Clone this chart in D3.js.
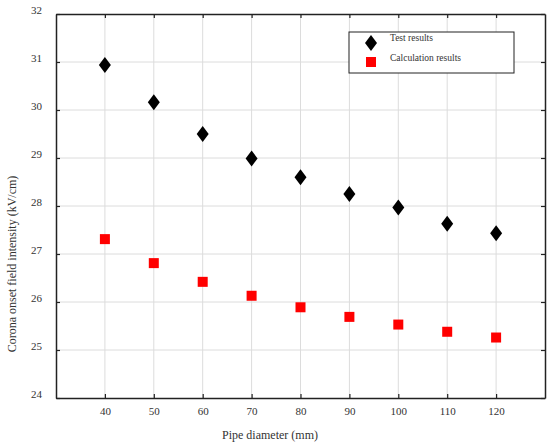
<!DOCTYPE html>
<html>
<head>
<meta charset="utf-8">
<script src="https://cdn.jsdelivr.net/npm/d3@7"></script>
<style>
  body { margin: 0; background: #fff; }
  svg text { font-family: 'Liberation Serif', 'DejaVu Serif', serif; fill: #333; }
</style>
</head>
<body>
<div id="chart"></div>
<script>
// data
const diameters = [40, 50, 60, 70, 80, 90, 100, 110, 120];
const testResults = [30.94, 30.16, 29.5, 28.99, 28.6, 28.25, 27.97, 27.63, 27.43];
const calcResults = [27.31, 26.81, 26.42, 26.13, 25.89, 25.69, 25.53, 25.38, 25.26];
const xTicks = [40, 50, 60, 70, 80, 90, 100, 110, 120];
const yTicks = [24, 25, 26, 27, 28, 29, 30, 31, 32];

const svgWidth = 550,
    svgHeight = 446,
    margin = { top: 14, right: 5, bottom: 48, left: 56 },
    width = svgWidth - margin.left - margin.right,
    height = svgHeight - margin.top - margin.bottom;

let svg = d3.select("#chart").append("svg")
    .attr("width", svgWidth)
    .attr("height", svgHeight);
let plot = svg.append("g")
    .attr("transform", `translate(${margin.left},${margin.top})`);

let xScale = d3.scaleLinear().domain([30, 130]).range([0, width]);
let yScale = d3.scaleLinear().domain([24, 32]).range([height, 0]);

// grid
plot.selectAll(".vgrid")
    .data(xTicks)
    .join("line")
    .attr("x1", d => xScale(d)).attr("x2", d => xScale(d))
    .attr("y1", 0).attr("y2", height)
    .attr("stroke", "#dcdcdc").attr("stroke-width", 1);
plot.selectAll(".hgrid")
    .data(yTicks.slice(1, -1))
    .join("line")
    .attr("x1", 0).attr("x2", width)
    .attr("y1", d => yScale(d)).attr("y2", d => yScale(d))
    .attr("stroke", "#dcdcdc").attr("stroke-width", 1);

// axes (inward ticks on all sides)
let xAxis = plot.append("g")
    .attr("transform", `translate(0,${height})`)
    .call(d3.axisBottom(xScale).tickValues(xTicks).tickSizeInner(-4).tickSizeOuter(0).tickPadding(9));
let xAxisTop = plot.append("g")
    .call(d3.axisTop(xScale).tickValues(xTicks).tickSizeInner(-4).tickSizeOuter(0).tickFormat(""));
let yAxis = plot.append("g")
    .call(d3.axisLeft(yScale).tickValues(yTicks).tickSizeInner(-4).tickSizeOuter(0).tickPadding(14));
let yAxisRight = plot.append("g")
    .attr("transform", `translate(${width},0)`)
    .call(d3.axisRight(yScale).tickValues(yTicks).tickSizeInner(-4).tickSizeOuter(0).tickFormat(""));

[xAxis, xAxisTop, yAxis, yAxisRight].forEach(a => {
    a.attr("font-family", null).attr("font-size", null);
    a.select(".domain").attr("stroke", "#222").attr("stroke-width", 1.5);
    a.selectAll(".tick line").attr("stroke", "#222").attr("stroke-width", 1.2);
    a.selectAll("text").attr("font-size", 11).attr("fill", "#555");
});
yAxis.selectAll(".tick text").attr("dy", "-0.05em");

// axis labels
svg.append("text")
    .attr("x", 270).attr("y", 439)
    .attr("text-anchor", "middle")
    .attr("font-size", 12)
    .text("Pipe diameter (mm)");
svg.append("text")
    .attr("transform", "translate(16,264) rotate(-90)")
    .attr("text-anchor", "middle")
    .attr("font-size", 12)
    .text("Corona onset field intensity (kV/cm)");

// markers
const diamond = (cx, cy) => `M${cx},${cy - 8}L${cx + 6},${cy}L${cx},${cy + 8}L${cx - 6},${cy}Z`;

plot.selectAll(".test")
    .data(diameters.map((d, i) => ({ x: d, y: testResults[i] })))
    .join("path")
    .attr("d", d => diamond(xScale(d.x), yScale(d.y)))
    .attr("fill", "#000");

plot.selectAll(".calc")
    .data(diameters.map((d, i) => ({ x: d, y: calcResults[i] })))
    .join("rect")
    .attr("x", d => xScale(d.x) - 5)
    .attr("y", d => yScale(d.y) - 5)
    .attr("width", 10).attr("height", 10)
    .attr("fill", "#f00");

// legend
let legend = svg.append("g");
legend.append("rect")
    .attr("x", 349).attr("y", 32).attr("width", 165).attr("height", 41)
    .attr("fill", "#fff").attr("stroke", "#222").attr("stroke-width", 1);
legend.append("path")
    .attr("d", diamond(371, 43))
    .attr("fill", "#000");
legend.append("rect")
    .attr("x", 366).attr("y", 57).attr("width", 10).attr("height", 10)
    .attr("fill", "#f00");
legend.append("text")
    .attr("x", 390).attr("y", 41)
    .attr("font-size", 9.5).attr("fill", "#222")
    .text("Test results");
legend.append("text")
    .attr("x", 390).attr("y", 61)
    .attr("font-size", 9.5).attr("fill", "#222")
    .text("Calculation results");
</script>
</body>
</html>
